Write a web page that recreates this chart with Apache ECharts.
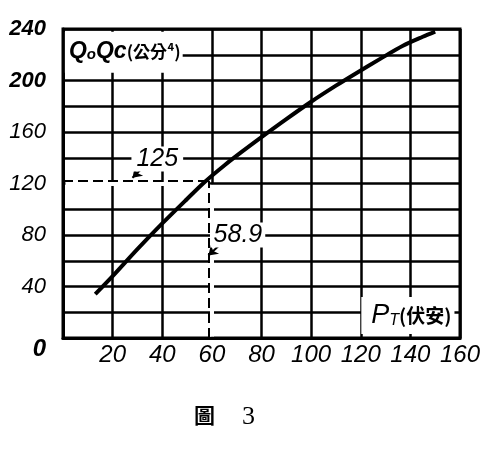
<!DOCTYPE html>
<html><head><meta charset="utf-8">
<script src="https://cdn.jsdelivr.net/npm/echarts@6/dist/echarts.min.js"></script>
<style>html,body{margin:0;padding:0;background:#fff}#c{width:494px;height:452px}</style>
</head><body><div id="c"></div>
<script>
// data
const pT   = [13, 20, 30, 40, 50, 57, 65, 72, 80, 90, 100, 110, 118, 128, 137, 145, 150];
const q0qc = [34, 48, 69, 89, 108, 121, 134, 144.5, 156, 170, 183.5, 196, 205.5, 217, 227, 234, 238];
const xTicks = [0, 20, 40, 60, 80, 100, 120, 140, 160];
const yTicks = [0, 40, 80, 120, 160, 200, 240];
// guide lines (as drawn) and their annotations
const guideX = 58.9, guideY = 122;
const labelX = '58.9', labelY = '125';
const caption = ['圖', '3'];

const chart = echarts.init(document.getElementById('c'));
const numFont = "'Liberation Sans',sans-serif";
const data = pT.map((x, i) => [x, q0qc[i]]);

chart.setOption({
  animation: false,
  backgroundColor: '#fff',
  grid: {left: 63, right: 34, top: 29, bottom: 114, show: true, borderColor: '#000', borderWidth: 3},
  xAxis: {
    type: 'value', min: 0, max: 160, interval: 20,
    axisLine: {lineStyle: {color: '#000', width: 3}},
    axisTick: {show: false},
    splitLine: {lineStyle: {color: '#000', width: 2.5}},
    axisLabel: {
      margin: 5, color: '#000', fontFamily: numFont, fontStyle: 'italic', fontSize: 24,
      formatter: v => (v === 0 || xTicks.indexOf(v) < 0) ? '' : String(v)
    }
  },
  yAxis: {
    type: 'value', min: 0, max: 240, interval: 20,
    axisLine: {lineStyle: {color: '#000', width: 3}},
    axisTick: {show: false},
    splitLine: {lineStyle: {color: '#000', width: 2.5}},
    axisLabel: {
      margin: 17, color: '#000', fontFamily: numFont, fontStyle: 'italic', fontSize: 22,
      formatter: v => {
        if (yTicks.indexOf(v) < 0) return '';
        if (v === 0) return '{z|0}';
        if (v >= 200) return '{b|' + v + '}';
        return String(v);
      },
      rich: {
        z: {padding: [22, 0, 0, 0], fontFamily: numFont, fontStyle: 'italic', fontWeight: 'bold', fontSize: 24, color: '#000'},
        b: {fontFamily: numFont, fontStyle: 'italic', fontWeight: 'bold', fontSize: 22, color: '#000'}
      }
    }
  },
  series: [
    { // erase grid segments under the dashed guides
      type: 'line', data: [], silent: true,
      markLine: {
        silent: true, symbol: 'none', animation: false, label: {show: false},
        lineStyle: {color: '#fff', width: 4, type: 'solid'},
        data: [
          [{coord: [1, 120]}, {coord: [59, 120]}],
          [{coord: [60, 1]}, {coord: [60, 119]}]
        ]
      }
    },
    {
      type: 'line', data: data, smooth: 0.3, symbol: 'none',
      lineStyle: {color: '#000', width: 4}, z: 5,
      markLine: {
        silent: true, animation: false, label: {show: false},
        lineStyle: {color: '#000', width: 2, type: [10, 5]},
        symbol: 'none',
        data: [
          [{coord: [0, guideY]}, {coord: [guideX, guideY]}],
          [{coord: [guideX, 0]}, {coord: [guideX, guideY]}],
          [{coord: [32.5, 133], lineStyle: {type: 'solid', width: 2}, symbol: 'none'},
           {coord: [28, 124.5], symbol: 'arrow', symbolSize: 9}],
          [{coord: [63, 72], lineStyle: {type: 'solid', width: 2}, symbol: 'none'},
           {coord: [58.6, 64], symbol: 'arrow', symbolSize: 9}]
        ]
      },
      markPoint: {
        silent: true, animation: false, symbol: 'rect', symbolSize: 1,
        itemStyle: {color: 'rgba(0,0,0,0)'},
        data: [
          {coord: [38, 139], label: {show: true, formatter: labelY, color: '#000',
            fontFamily: numFont, fontStyle: 'italic', fontSize: 25, backgroundColor: '#fff', padding: [0, 5]}},
          {coord: [70.5, 80], label: {show: true, formatter: labelX, color: '#000',
            fontFamily: numFont, fontStyle: 'italic', fontSize: 25, backgroundColor: '#fff', padding: [0, 3]}},
          {coord: [24.5, 222], label: {show: true, color: '#000', backgroundColor: '#fff',
            padding: [8, 2, 10, 4],
            formatter: '{q|Q}{s|o}{q|Qc}{c|(公分⁴)}',
            rich: {
              q: {fontFamily: numFont, fontStyle: 'italic', fontWeight: 'bold', fontSize: 23, color: '#000'},
              s: {fontFamily: numFont, fontStyle: 'italic', fontWeight: 'bold', fontSize: 15, color: '#000', verticalAlign: 'bottom'},
              c: {fontFamily: "'Noto Sans CJK TC'", fontWeight: 'bold', fontSize: 17, color: '#000'}
            }}},
          {coord: [139, 17.5], label: {show: true, color: '#000', backgroundColor: '#fff',
            padding: [5, 3, 5, 10],
            formatter: '{p|P}{t|T}{c|(伏安)}',
            rich: {
              p: {fontFamily: numFont, fontStyle: 'italic', fontSize: 27, color: '#000'},
              t: {fontFamily: numFont, fontStyle: 'italic', fontSize: 16, color: '#000', verticalAlign: 'bottom'},
              c: {fontFamily: "'Noto Sans CJK TC'", fontWeight: 'bold', fontSize: 19, color: '#000'}
            }}}
        ]
      }
    }
  ],
  graphic: [
    {type: 'text', left: 194, top: 405,
     style: {text: caption[0], font: "bold 21px 'Noto Sans CJK TC'", fill: '#000'}},
    {type: 'text', left: 242, top: 404,
     style: {text: caption[1], font: "26px 'Liberation Serif',serif", fill: '#000'}}
  ]
});
</script></body></html>
